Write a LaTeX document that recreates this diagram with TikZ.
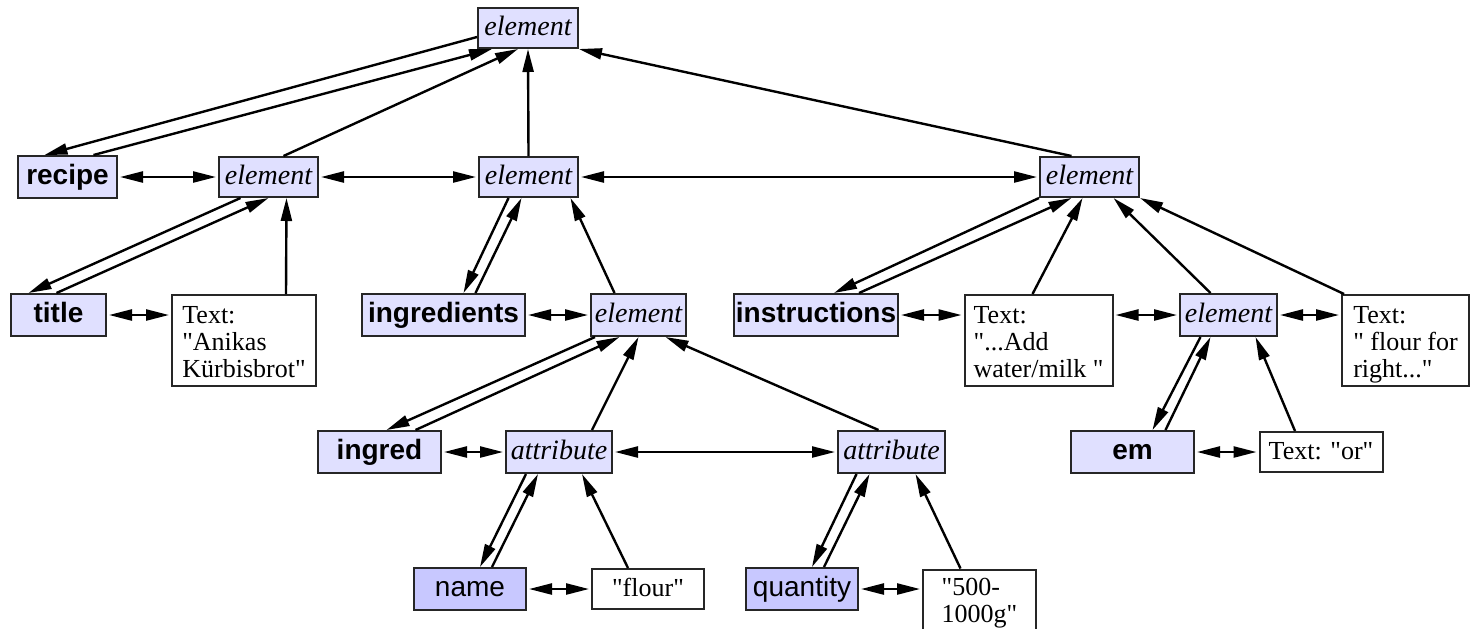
\documentclass[tikz,border=0pt]{standalone}
\usepackage{fontspec}
\setmainfont{Liberation Serif}[Ligatures=TeXOff]
\setsansfont{Liberation Sans}
\usetikzlibrary{arrows.meta,calc}
\definecolor{nodefill}{RGB}{224,224,255}
\definecolor{leaffill}{RGB}{200,200,255}

\tikzset{
  box/.style={draw=black!85, line width=1pt, inner sep=0pt, minimum height=21pt,
              text height=9.5pt, text depth=2.5pt},
  tagbox/.style={box, fill=nodefill, font=\fontsize{14}{14}\selectfont\sffamily\bfseries},
  elbox/.style={box, fill=nodefill, minimum height=20pt, font=\fontsize{14}{14}\selectfont\itshape},
  attrbox/.style={box, fill=leaffill, font=\fontsize{14}{14}\selectfont\sffamily},
  valbox/.style={box, fill=white, minimum height=20pt, font=\fontsize{13}{13.5}\selectfont},
  textbox/.style={draw=black!85, line width=1pt, fill=white, anchor=north,
                  font=\fontsize{13}{13.5}\selectfont, align=left,
                  inner xsep=0pt, inner ysep=4pt, text depth=0.6pt},
  link/.style={line width=1.2pt, -{Triangle[length=11.5pt,width=5.5pt]}},
  pair/.style={line width=1.2pt, {Triangle[length=11.5pt,width=5.5pt]}-{Triangle[length=11.5pt,width=5.5pt]},
               shorten <=1pt, shorten >=1pt},
}

\begin{document}
\begin{tikzpicture}[x=0.5pt, y=-0.5pt]
\useasboundingbox (0,0) rectangle (1475,628);

% ---- nodes ----
\node[elbox, minimum width=50pt]   (E0) at (528,28) {element};

\node[tagbox, minimum width=49.5pt] (recipe) at (67.5,177) {recipe};
\node[elbox, minimum width=49.5pt]  (E1) at (268.5,177) {element};
\node[elbox, minimum width=49.5pt]  (E2) at (528.5,177) {element};
\node[elbox, minimum width=49.5pt]  (E4) at (1089.5,177) {element};

\node[tagbox, minimum width=47.5pt] (title) at (58.5,315) {title};
\node[textbox, minimum width=72pt] (tA) at (244,294) {\rule{0pt}{10pt}Text:\\"Anikas\\Kürbisbrot"};
\node[tagbox, minimum width=81.5pt] (ingredients) at (443.5,315) {ingredients};
\node[elbox, minimum width=47.5pt, minimum height=21pt] (E3) at (638.5,315) {element};
\node[tagbox, minimum width=82pt] (instructions) at (816,315) {instructions};
\node[textbox, minimum width=74pt] (tB) at (1038.5,294) {\rule{0pt}{10pt}Text:\\"...Add\\water/milk "};
\node[elbox, minimum width=48.5pt, minimum height=21pt] (E5) at (1228.5,315) {element};
\node[textbox, minimum width=63.5pt] (tC) at (1405.5,294) {\rule{0pt}{10pt}Text:\\" flour for\\right..."};

\node[tagbox, minimum width=61.5pt] (ingred) at (379.5,452) {ingred};
\node[elbox, minimum width=53pt, minimum height=21pt] (A1) at (559,452) {attribute};
\node[elbox, minimum width=53.5pt, minimum height=21pt] (A2) at (891.5,452) {attribute};
\node[tagbox, minimum width=61.5pt] (em) at (1132.5,452) {em};
\node[valbox, minimum width=61.5pt] (tD) at (1321,452) {Text: "or"};

\node[attrbox, minimum width=56pt] (name) at (470,589) {name};
\node[valbox, minimum width=56pt] (flour) at (648,589) {"flour"};
\node[attrbox, minimum width=56pt] (quantity) at (802,589) {quantity};
\node[textbox, minimum width=56.5pt, text depth=10pt] (t500) at (979.5,568.5) {\rule{0pt}{9pt}"500-\\1000g"};

% ---- links to the root element ----
\draw[link] ($(E0.west)+(0,9)$) -- ($(recipe.north)+(-23,0)$);
\draw[link] ($(recipe.north)+(26,0)$) -- ($(E0.south)+(-36,0)$);
\draw[link] ($(E1.north)+(15,0)$) -- ($(E0.south)+(-10,0)$);
\draw[link] (E2.north) -- (E0.south);
\draw[link] ($(E4.north)+(-18,0)$) -- (E0.south east);

% ---- siblings, second row ----
\draw[pair] (recipe.east) -- (E1.west);
\draw[pair] (E1.east) -- (E2.west);
\draw[pair] (E2.east) -- (E4.west);

% ---- title subtree ----
\draw[link] ($(E1.south)+(-28,0)$) -- ($(title.north)+(-30,0)$);
\draw[link] ($(title.north)+(-2,0)$) -- (E1.south);
\draw[link] ($(tA.north)+(42,0)$) -- ($(E1.south)+(18,0)$);
\draw[pair] (title.east) -- (title.east -| tA.west);

% ---- ingredients subtree ----
\draw[link] ($(E2.south)+(-20,0)$) -- ($(ingredients.north)+(20,0)$);
\draw[link] ($(ingredients.north)+(32,0)$) -- ($(E2.south)+(-7,0)$);
\draw[link] ($(E3.north)+(-24,0)$) -- ($(E2.south)+(42,0)$);
\draw[pair] (ingredients.east) -- (E3.west);

\draw[link] ($(E3.south west)+(5,0)$) -- ($(ingred.north)+(7,0)$);
\draw[link] ($(ingred.north)+(36,0)$) -- ($(E3.south)+(-19,0)$);
\draw[link] ($(A1.north)+(33,0)$) -- (E3.south);
\draw[link] ($(A2.north)+(-13,0)$) -- ($(E3.south)+(27,0)$);
\draw[pair] (ingred.east) -- (A1.west);
\draw[pair] (A1.east) -- (A2.west);

\draw[link] ($(A1.south)+(-33,0)$) -- ($(name.north)+(10,0)$);
\draw[link] ($(name.north)+(22,0)$) -- ($(A1.south)+(-21,0)$);
\draw[link] ($(flour.north)+(-20,0)$) -- ($(A1.south)+(23,0)$);
\draw[pair] (name.east) -- (flour.west);

\draw[link] ($(A2.south)+(-35,0)$) -- ($(quantity.north)+(10,0)$);
\draw[link] ($(quantity.north)+(22,0)$) -- ($(A2.south)+(-22,0)$);
\draw[link] ($(t500.north)+(-19,0)$) -- ($(A2.south)+(24,0)$);
\draw[pair] (quantity.east) -- (quantity.east -| t500.west);

% ---- instructions subtree ----
\draw[link] (E4.south west) -- ($(instructions.north)+(18,0)$);
\draw[link] ($(instructions.north)+(43,0)$) -- ($(E4.south)+(-18,0)$);
\draw[link] ($(tB.north)+(-6,0)$) -- ($(E4.south)+(-7,0)$);
\draw[link] ($(E5.north)+(-18,0)$) -- ($(E4.south)+(24,0)$);
\draw[link] ($(tC.north west)+(3,0)$) -- (E4.south east);
\draw[pair] (instructions.east) -- (instructions.east -| tB.west);
\draw[pair] (instructions.east -| tB.east) -- (E5.west);
\draw[pair] (E5.east) -- (E5.east -| tC.west);

\draw[link] ($(E5.south)+(-28,0)$) -- ($(em.north)+(20,0)$);
\draw[link] ($(em.north)+(33,0)$) -- ($(E5.south)+(-18,0)$);
\draw[link] ($(tD.north)+(-26,0)$) -- ($(E5.south)+(27,0)$);
\draw[pair] (em.east) -- (tD.west);
\end{tikzpicture}
\end{document}
